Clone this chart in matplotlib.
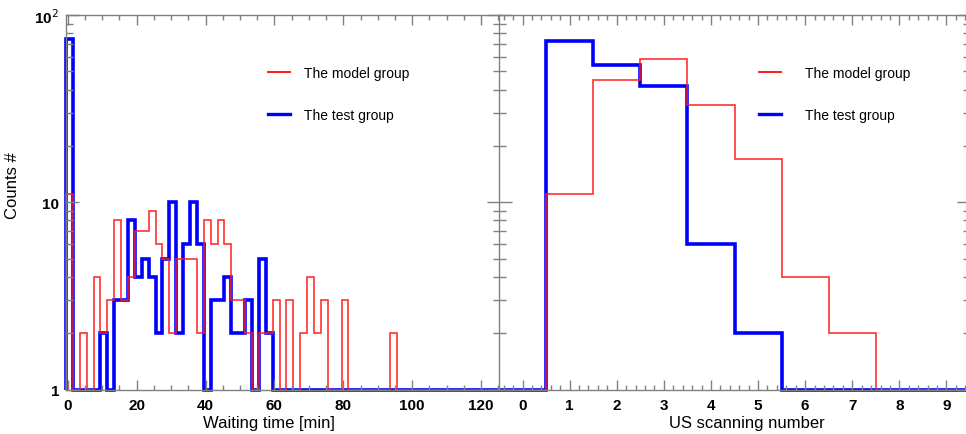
import numpy as np
import matplotlib
matplotlib.use("Agg")
import matplotlib.pyplot as plt
from matplotlib.lines import Line2D
from matplotlib.ticker import MultipleLocator, LogLocator, NullFormatter

plt.rcParams['font.family'] = ['Liberation Sans', 'DejaVu Sans']

# waiting time histogram, 2 min bins starting at -0.5
wait_edges = np.arange(-0.5, 126, 2.0)
wait_model = [11, 0, 2, 0, 4, 2, 3, 8, 3, 4, 7, 7, 9, 6, 5, 2, 5, 5, 5, 2,
              8, 6, 8, 6, 3, 3, 2, 0, 2, 2, 3, 0, 3, 0, 2, 4, 2, 3, 0, 0,
              3, 0, 0, 0, 0, 0, 0, 2, 0, 0, 0, 0, 0, 0, 0, 0, 0, 0, 0, 0,
              0, 0, 0]
wait_test = [74, 0, 0, 0, 0, 2, 0, 3, 3, 8, 4, 5, 4, 2, 5, 10, 2, 6, 10, 6,
             0, 3, 3, 4, 2, 2, 3, 0, 5, 2, 0, 0, 0, 0, 0, 0, 0, 0, 0, 0,
             0, 0, 0, 0, 0, 0, 0, 0, 0, 0, 0, 0, 0, 0, 0, 0, 0, 0, 0, 0,
             0, 0, 0]

# number of US scans
scan_edges = np.arange(-0.5, 10, 1.0)
scan_model = [0, 11, 45, 58, 33, 17, 4, 2, 0, 0]
scan_test = [0, 73, 54, 42, 6, 2, 0, 0, 0, 0]

labels = ["The model group", "The test group"]
red = "#ff1a1a"
blue = "#0000ff"
frame = "#808080"
tick_font = dict(family=['Liberation Sans Narrow', 'Liberation Sans'], weight='bold', size=11)

fig = plt.figure(figsize=(9.66, 4.35), dpi=100)
axL = fig.add_axes([66/966, 44.5/435, 434/966, 374.5/435])
axR = fig.add_axes([499/966, 44.5/435, 471/966, 374.5/435])


def draw(ax, edges, model, test):
    ax.stairs(np.clip(test, 1, None), edges, baseline=1, color=blue, lw=2.6, clip_on=False)
    ax.stairs(np.clip(model, 1, None), edges, baseline=1, color=red, lw=1.2, alpha=0.9, clip_on=False)
    ax.set_yscale('log')
    ax.set_ylim(1, 100)
    ax.set_xlim(edges[0], edges[-1])
    for s in ax.spines.values():
        s.set_color(frame)
        s.set_linewidth(1.0)
    ax.tick_params(which='both', direction='in', top=True, right=True, color=frame, width=1)
    ax.tick_params(axis='x', which='major', length=7.5)
    ax.tick_params(axis='x', which='minor', length=3.8)
    ax.tick_params(axis='y', which='major', length=9.5)
    ax.tick_params(axis='y', which='minor', length=5)
    ax.yaxis.set_minor_locator(LogLocator(base=10, subs=np.arange(2, 10)))
    ax.yaxis.set_minor_formatter(NullFormatter())
    handles = [Line2D([], [], color=red, lw=1.4), Line2D([], [], color=blue, lw=2.4)]
    return handles


hL = draw(axL, wait_edges, wait_model, wait_test)
hR = draw(axR, scan_edges, scan_model, scan_test)

axL.xaxis.set_major_locator(MultipleLocator(20))
axL.xaxis.set_minor_locator(MultipleLocator(5))
axL.set_yticks([1, 10, 100], ['1', '10', '10$^{2}$'])
for t in axL.get_xticklabels() + axL.get_yticklabels():
    t.set(**tick_font)
axL.tick_params(axis='x', pad=6)
axL.tick_params(axis='y', pad=5)

axR.set_xlim(-0.5, 9.5)
axR.xaxis.set_major_locator(MultipleLocator(1))
axR.xaxis.set_minor_locator(MultipleLocator(0.2))
axR.set_yticks([1, 10, 100], ['', '', ''])
for t in axR.get_xticklabels():
    t.set(**tick_font)
axR.tick_params(axis='x', pad=6)

axL.set_xlabel("Waiting time [min]", fontsize=12)
axR.set_xlabel("US scanning number", fontsize=12)
axL.set_ylabel("Counts #", fontsize=12)
axL.xaxis.set_label_coords(0.468, -0.068)
axR.xaxis.set_label_coords(0.527, -0.068)
axL.yaxis.set_label_coords(-0.106, 0.547)

for ax, h, x0, pad in [(axL, hL, 0.466, 1.0), (axR, hR, 0.552, 1.75)]:
    ax.legend(h, labels, loc='upper left', bbox_to_anchor=(x0, 0.865), frameon=False,
              fontsize=10, handlelength=1.58, handletextpad=pad, labelspacing=2.05,
              borderpad=0, borderaxespad=0)

fig.savefig("out.png", dpi=100)
